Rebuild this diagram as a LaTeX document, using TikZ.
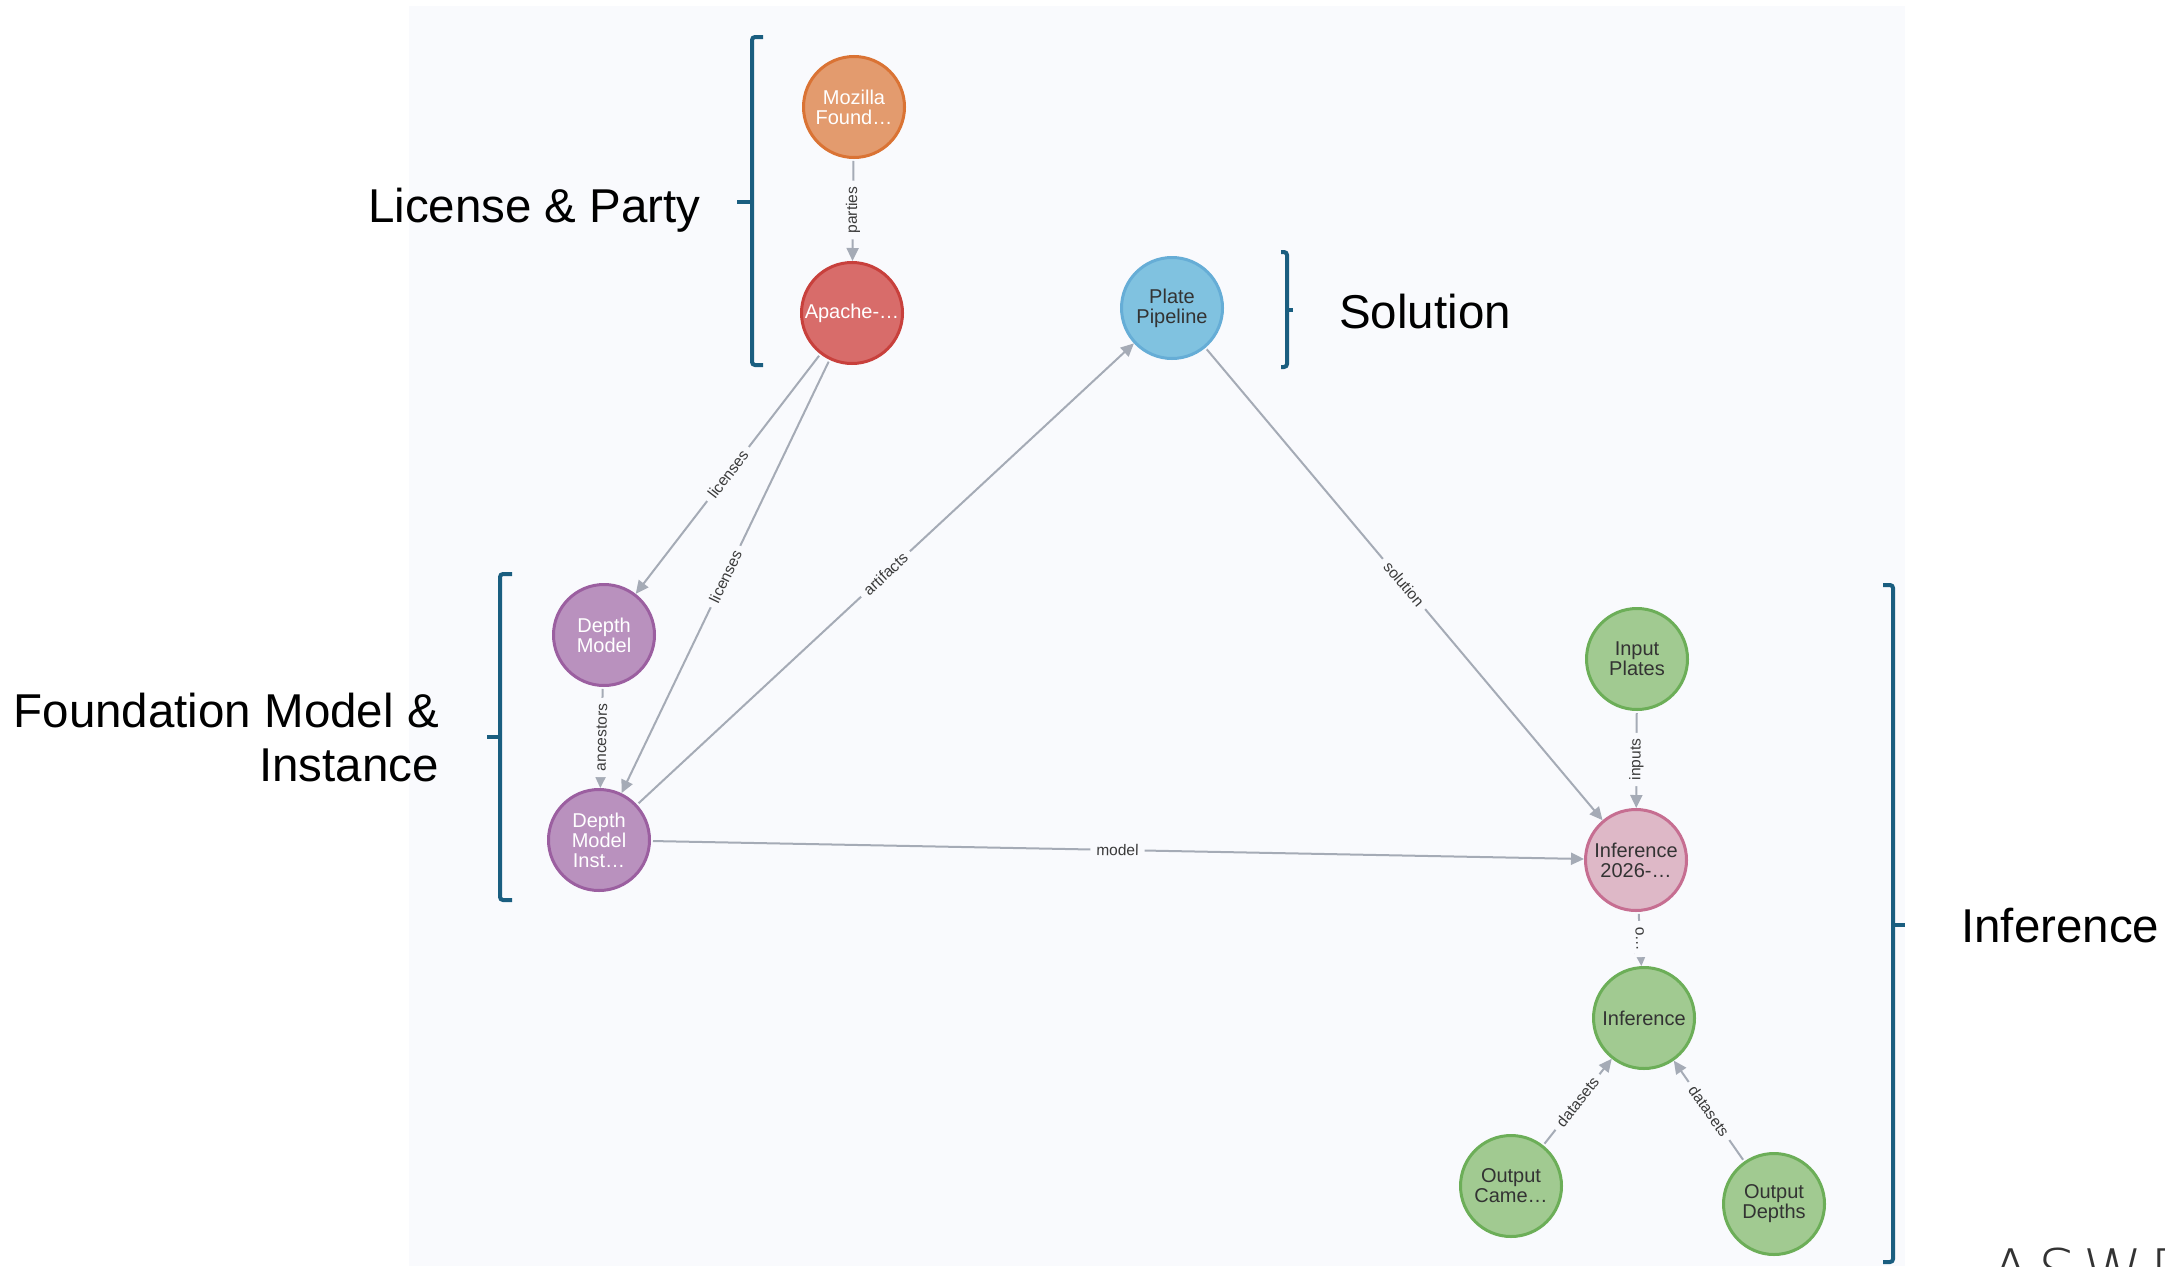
\documentclass[tikz,border=0pt]{standalone}
\usepackage{fontspec}
\setmainfont{Liberation Sans}
\newfontfamily\nodefont{Liberation Sans}
\newfontfamily\groupfont{Liberation Sans}
\IfFontExistsTF{DejaVu Sans ExtraLight}
  {\newfontfamily\logofont[LetterSpace=12]{DejaVu Sans ExtraLight}}
  {\newfontfamily\logofont[LetterSpace=12]{DejaVu Sans}}
\usetikzlibrary{arrows.meta}

\definecolor{panel}{HTML}{F9FAFD}
\definecolor{edgegray}{HTML}{A5ABB6}
\definecolor{labelgray}{HTML}{3A3A3A}
\definecolor{darktext}{HTML}{333333}
\definecolor{bracketblue}{HTML}{1A5E80}
\definecolor{mozFill}{HTML}{E39B6E}\definecolor{mozLine}{HTML}{DA7334}
\definecolor{apFill}{HTML}{D86C6A}\definecolor{apLine}{HTML}{C8403C}
\definecolor{plFill}{HTML}{80C2E0}\definecolor{plLine}{HTML}{66ADD6}
\definecolor{dmFill}{HTML}{B991BE}\definecolor{dmLine}{HTML}{9B5FA0}
\definecolor{pkFill}{HTML}{DEB8C7}\definecolor{pkLine}{HTML}{C66E91}
\definecolor{grFill}{HTML}{A1CA91}\definecolor{grLine}{HTML}{6CAE58}

\tikzset{
  gnode/.style={circle, minimum size=101pt, line width=3pt, inner sep=0pt,
    align=center, font=\nodefont\fontsize{20}{20}\selectfont},
  orangenode/.style={gnode, fill=mozFill, draw=mozLine, text=white},
  rednode/.style={gnode, fill=apFill, draw=apLine, text=white},
  bluenode/.style={gnode, fill=plFill, draw=plLine, text=darktext},
  purplenode/.style={gnode, fill=dmFill, draw=dmLine, text=white},
  pinknode/.style={gnode, fill=pkFill, draw=pkLine, text=darktext},
  greennode/.style={gnode, fill=grFill, draw=grLine, text=darktext},
  rel/.style={draw=edgegray, line width=2pt, -{Triangle[length=13pt,width=12pt]},
    shorten <=2pt},
  rlab/.style={fill=panel, inner xsep=6pt, inner ysep=2pt, text=labelgray,
    font=\nodefont\fontsize{15.5}{16}\selectfont},
  bracket/.style={draw=bracketblue, line width=4pt, rounded corners=3pt},
  grouplabel/.style={inner sep=0pt, text=black,
    font=\groupfont\fontsize{47.5}{54}\selectfont},
}

\begin{document}
\begin{tikzpicture}[x=1pt, y=-1pt]
  \useasboundingbox (0,0) rectangle (2165,1266);
  \fill[white] (0,0) rectangle (2165,1266);
  \fill[panel] (409,6) rectangle (1905,1266);

  % graph nodes
  \node[orangenode] (moz) at (854,107) {Mozilla\\Found…};
  \node[rednode] (apache) at (852,313) {Apache-…};
  \node[bluenode] (plate) at (1172,308) {Plate\\Pipeline};
  \node[purplenode] (dm) at (604,635) {Depth\\Model};
  \node[purplenode] (dmi) at (599,840) {Depth\\Model\\Inst…};
  \node[greennode] (inplates) at (1637,659) {Input\\Plates};
  \node[pinknode] (inf26) at (1636,860) {Inference\\2026-…};
  \node[greennode] (inf) at (1644,1018) {Inference};
  \node[greennode] (outcam) at (1511,1186) {Output\\Came…};
  \node[greennode] (outdep) at (1774,1204) {Output\\Depths};

  % relationships
  \draw[rel] (moz) -- node[rlab, rotate=89.4] (lParties) {parties} (apache);
  \draw[rel] (apache) -- node[rlab, rotate=52.4] (lLicA) {licenses} (dm);
  \draw[rel] (apache) -- node[rlab, rotate=64.4] (lLicB) {licenses} (dmi);
  \draw[rel] (dm) -- node[rlab, rotate=88.6] (lAnc) {ancestors} (dmi);
  \draw[rel] (dmi) -- node[rlab, rotate=42.9] (lArt) {artifacts} (plate);
  \draw[rel] (dmi) -- node[rlab, rotate=-1.1] (lModel) {model} (inf26);
  \draw[rel] (plate) -- node[rlab, rotate=-50.0] (lSol) {solution} (inf26);
  \draw[rel] (inplates) -- node[rlab, rotate=89.7] (lIn) {inputs} (inf26);
  \draw[rel] (inf26) -- node[rlab, rotate=-87.1] (lOut) {o…} (inf);
  \draw[rel] (outcam) -- node[rlab, rotate=51.6] (lDsA) {datasets} (inf);
  \draw[rel] (outdep) -- node[rlab, rotate=-55.0] (lDsB) {datasets} (inf);

  % group brackets
  \draw[bracket] (763,37) -- (752,37) -- (752,365) -- (763,365);
  \draw[bracket] (752,202) -- (737,202);
  \draw[bracket] (512,574) -- (500,574) -- (500,900) -- (512,900);
  \draw[bracket] (500,737) -- (487,737);
  \draw[bracket] (1281,252) -- (1287,252) -- (1287,367) -- (1281,367);
  \draw[bracket] (1287,310) -- (1293,310);
  \draw[bracket] (1883,585) -- (1893,585) -- (1893,1262) -- (1883,1262);
  \draw[bracket] (1893,925) -- (1905,925);

  % group captions
  \node[grouplabel, anchor=base east] (gLicense) at (701,222) {License \& Party};
  \node[grouplabel, anchor=base west] (gSolution) at (1339,328) {Solution};
  \node[grouplabel, anchor=base east] (gFoundA) at (439,727) {Foundation Model \&};
  \node[grouplabel, anchor=base east] (gFoundB) at (439,781) {Instance};
  \node[grouplabel, anchor=base west] (gInference) at (1961,942) {Inference};

  % logo, running off the lower edge
  \begin{scope}
    \clip (0,0) rectangle (2165,1266);
    \node[inner sep=0pt, anchor=base west, text=darktext,
      font=\logofont\fontsize{60}{60}\selectfont] (logo) at (1990,1292) {ASWF};
  \end{scope}
\end{tikzpicture}
\end{document}
